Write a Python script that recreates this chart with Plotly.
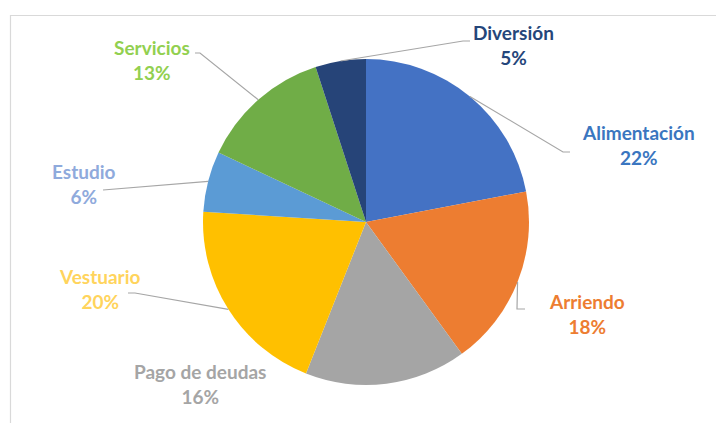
import math
import plotly.graph_objects as go

# ---- data ----
categories = ["Alimentación", "Arriendo", "Pago de deudas", "Vestuario", "Estudio", "Servicios", "Diversión"]
values = [22, 18, 16, 20, 6, 13, 5]

# ---- styles ----
slice_colors = ["#4472C4", "#ED7D31", "#A5A5A5", "#FFC000", "#5B9BD5", "#70AD47", "#264478"]
text_colors = ["#3A76C0", "#ED7D31", "#A5A5A5", "#FFD45C", "#8FAADC", "#92D050", "#25467A"]

W, H = 716, 423
cx, cy, R = 366, 222, 163  # pie centre and radius in pixels

# label text centres (px) and leader elbow points (px) -- layout only
label_pos = {
    "Alimentación": (638, 145),
    "Arriendo": (587, 314),
    "Pago de deudas": (200, 384),
    "Vestuario": (100, 289),
    "Estudio": (84, 184),
    "Servicios": (152, 60),
    "Diversión": (513, 45),
}
leader_elbow = {
    "Alimentación": [(570, 152), (563, 152)],
    "Arriendo": [(525, 309), (517, 309)],
    "Vestuario": [(128, 293), (135, 293)],
    "Estudio": [(103, 190)],
    "Servicios": [(195, 53), (200, 53)],
    "Diversión": [(470, 41), (463, 41)],
}


def px(x):
    return x / W


def py(y):
    return 1 - y / H


fig = go.Figure(go.Pie(
    labels=categories,
    values=values,
    sort=False,
    direction="clockwise",
    rotation=0,
    marker=dict(colors=slice_colors, line=dict(width=0)),
    textinfo="none",
    hoverinfo="label+percent",
    showlegend=False,
    domain=dict(x=[px(cx - R), px(cx + R)], y=[py(cy + R), py(cy - R)]),
))

total = sum(values)
annotations = []
shapes = []
cum = 0
for cat, v, tc in zip(categories, values, text_colors):
    mid = (cum + v / 2) / total * 2 * math.pi
    cum += v
    ax = cx + R * math.sin(mid)
    ay = cy - R * math.cos(mid)
    pct = round(v / total * 100)
    lx, ly = label_pos[cat]
    annotations.append(dict(
        x=px(lx), y=py(ly), xref="paper", yref="paper",
        text=f"<b>{cat}</b><br><b>{pct}%</b>",
        showarrow=False, align="center",
        font=dict(family="Lato", size=19, color=tc),
        xanchor="center", yanchor="middle",
    ))
    if cat in leader_elbow:
        pts = leader_elbow[cat] + [(ax, ay)]
        path = "M " + " L ".join(f"{px(x)},{py(y)}" for x, y in pts)
        shapes.append(dict(type="path", xref="paper", yref="paper", path=path,
                           line=dict(color="#A6A6A6", width=1.2)))

# chart-area border
shapes.append(dict(type="rect", xref="paper", yref="paper",
                   x0=px(10.5), y0=py(440), x1=px(730), y1=py(15.5),
                   line=dict(color="#D9D9D9", width=1.2), layer="below"))

fig.update_layout(
    width=W, height=H,
    margin=dict(l=0, r=0, t=0, b=0),
    paper_bgcolor="white",
    plot_bgcolor="white",
    annotations=annotations,
    shapes=shapes,
)

fig.write_html("out.html", config={"displayModeBar": False},
               post_script="document.body.style.margin='0';")
